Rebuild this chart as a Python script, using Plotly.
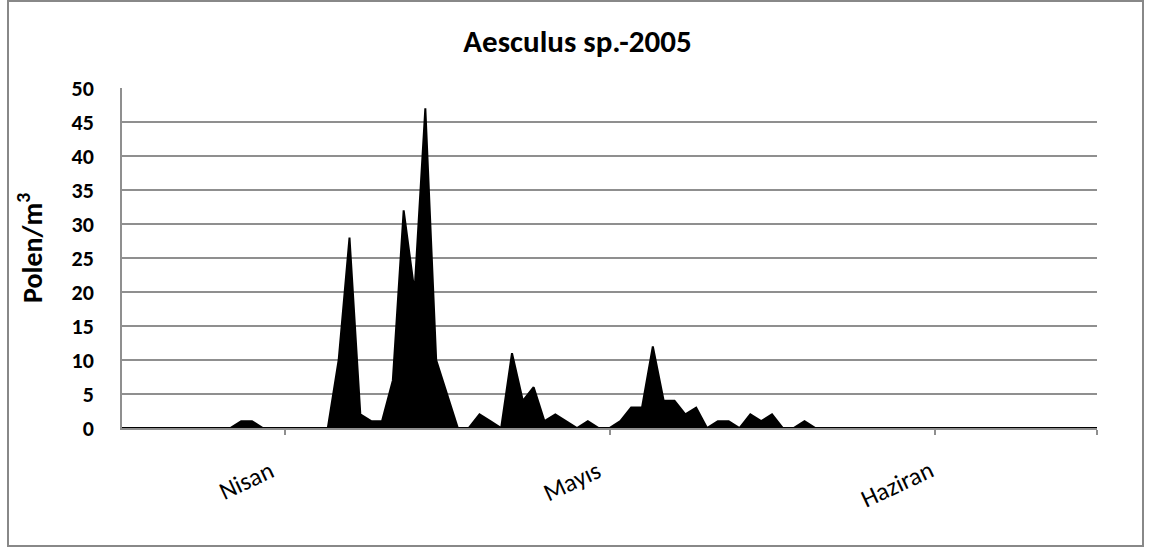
import plotly.graph_objects as go

# daily pollen counts, 1 Apr - 30 Jun 2005 (index 0..90)
days = list(range(91))
polen = [0] * 91
peaks = {
    11: 1, 12: 1,
    20: 10, 21: 28, 22: 2, 23: 1, 24: 1, 25: 7, 26: 32, 27: 20, 28: 47, 29: 10, 30: 5,
    33: 2, 34: 1, 36: 11, 37: 4, 38: 6, 39: 1, 40: 2, 41: 1, 43: 1,
    46: 1, 47: 3, 48: 3, 49: 12, 50: 4, 51: 4, 52: 2, 53: 3, 55: 1, 56: 1,
    58: 2, 59: 1, 60: 2, 63: 1,
}
for k, v in peaks.items():
    polen[k] = v

tick_pos = [15, 45, 75, 90]
month_pos = [11.5, 41.5, 71.5]
month_labels = ["Nisan", "Mayıs", "Haziran"]
y_ticks = list(range(0, 55, 5))

FONT = "Carlito, Lato, sans-serif"
GRID = "#8f8f8f"

fig = go.Figure()
fig.add_trace(go.Scatter(
    x=days, y=polen, mode="lines", fill="tozeroy",
    fillcolor="black", line=dict(color="black", width=2),
    hoverinfo="x+y", showlegend=False,
))

fig.update_layout(
    width=1155, height=549,
    margin=dict(l=122, r=58, t=88, b=121),
    plot_bgcolor="white", paper_bgcolor="white",
    font=dict(family=FONT, color="black"),
    title=dict(text="<b>Aesculus sp.-2005</b>", x=0.5, xanchor="center",
               y=1 - 41 / 549, yanchor="middle",
               font=dict(size=31, family=FONT, color="black")),
)
fig.update_xaxes(
    range=[0, 90], tickmode="array", tickvals=tick_pos, showticklabels=False,
    ticks="outside", ticklen=5, tickcolor=GRID, tickwidth=1.5,
    showgrid=False, zeroline=False,
    showline=True, linecolor=GRID, linewidth=1.5,
)
fig.update_yaxes(
    range=[0, 50], tickvals=y_ticks,
    tickfont=dict(size=22, family=FONT, weight="bold"), ticklabelstandoff=22,
    showgrid=True, gridcolor=GRID, gridwidth=1.6, zeroline=False,
    showline=True, linecolor=GRID, linewidth=1.5, ticks="",
)
# month labels, rotated like the original category axis
for pos, lab in zip(month_pos, month_labels):
    fig.add_annotation(text=lab, textangle=-25, x=pos, xref="x",
                       y=(428 - 452) / 340, yref="paper",
                       xanchor="center", yanchor="top", showarrow=False,
                       font=dict(size=25, family=FONT, color="black"))
# y axis title
fig.add_annotation(text="<b>Polen/m<sup>3</sup></b>", textangle=-90,
                   xref="paper", yref="paper", x=(30 - 122) / 975, y=(428 - 248) / 340,
                   xanchor="center", yanchor="middle", showarrow=False,
                   font=dict(size=28, family=FONT, color="black"))
# outer chart border
fig.add_shape(type="rect", xref="paper", yref="paper",
              x0=(8 - 122) / 975, x1=(1143 - 122) / 975,
              y0=(428 - 546) / 340, y1=(428 - 1) / 340,
              line=dict(color="#888888", width=2), layer="below")

fig.write_html("out.html", config={"displayModeBar": False},
               post_script="document.body.style.margin='0';")
